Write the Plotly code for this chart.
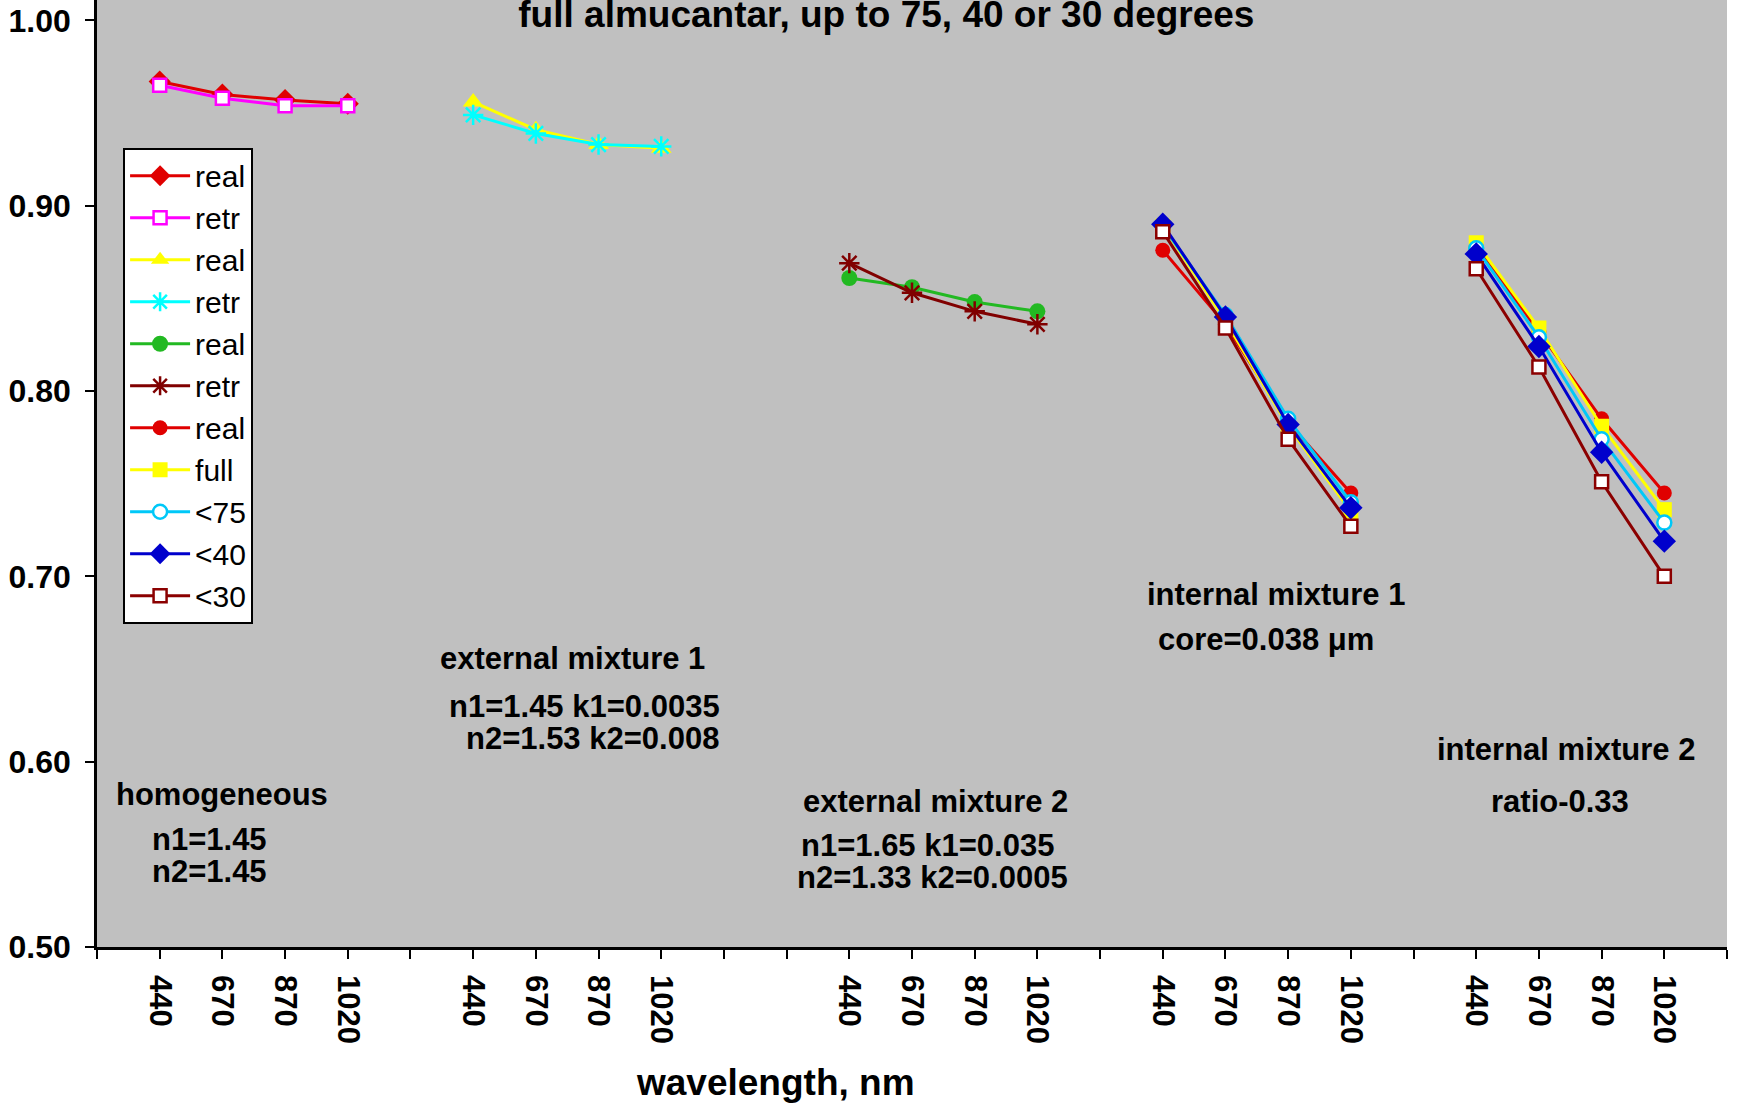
import plotly.graph_objects as go

# ---------------- data ----------------
x_labels = ["", "440", "670", "870", "1020", "",
            "440", "670", "870", "1020", "", "",
            "440", "670", "870", "1020", "",
            "440", "670", "870", "1020", "",
            "440", "670", "870", "1020", ""]

homog_real = [0.967, 0.960, 0.957, 0.955]
homog_retr = [0.965, 0.958, 0.954, 0.954]
ext1_real = [0.956, 0.941, 0.933, 0.931]
ext1_retr = [0.949, 0.939, 0.933, 0.932]
ext2_real = [0.861, 0.856, 0.848, 0.843]
ext2_retr = [0.869, 0.853, 0.843, 0.836]
int1_real = [0.876, 0.836, 0.783, 0.745]
int1_full = [0.889, 0.838, 0.781, 0.735]
int1_lt75 = [0.889, 0.841, 0.785, 0.740]
int1_lt40 = [0.890, 0.840, 0.782, 0.737]
int1_lt30 = [0.886, 0.834, 0.774, 0.727]
int2_real = [0.878, 0.832, 0.785, 0.745]
int2_full = [0.880, 0.834, 0.781, 0.736]
int2_lt75 = [0.877, 0.829, 0.774, 0.729]
int2_lt40 = [0.874, 0.824, 0.767, 0.719]
int2_lt30 = [0.866, 0.813, 0.751, 0.700]

y_ticks = [0.50, 0.60, 0.70, 0.80, 0.90, 1.00]

# category positions for each group (starts where "440" appears)
starts = [i for i, t in enumerate(x_labels) if t == "440"]
def pos(g):
    return list(range(starts[g], starts[g] + 4))

FONT = "Arial, Liberation Sans, sans-serif"
fig = go.Figure()

def add(name, xs, ys, color, symbol, size=14, fill=None, lw=2):
    mk = dict(symbol=symbol, size=size, color=fill if fill else color,
              line=dict(color=color, width=lw))
    fig.add_trace(go.Scatter(x=xs, y=ys, mode="lines+markers", name=name,
                             line=dict(color=color, width=3), marker=mk,
                             connectgaps=False))

RED = "#E00000"
add("real", pos(0), homog_real, RED, "diamond", 17, lw=0)
add("retr", pos(0), homog_retr, "#FF00FF", "square", 13, fill="white", lw=2.5)
add("real", pos(1), ext1_real, "#FFFF00", "triangle-up", 18, lw=0)
add("retr", pos(1), ext1_retr, "#00FFFF", "asterisk-open", 17, lw=2.5)
add("real", pos(2), ext2_real, "#22B922", "circle", 16, lw=0)
add("retr", pos(2), ext2_retr, "#800000", "asterisk-open", 17, lw=2.5)

def both(a, b):
    return pos(3) + [None] + pos(4), a + [None] + b

xs, ys = both(int1_real, int2_real); add("real", xs, ys, RED, "circle", 15, lw=0)
xs, ys = both(int1_full, int2_full); add("full", xs, ys, "#FFFF00", "square", 15, lw=0)
xs, ys = both(int1_lt75, int2_lt75); add("<75", xs, ys, "#00C8F8", "circle", 14, fill="white", lw=2.5)
xs, ys = both(int1_lt40, int2_lt40); add("<40", xs, ys, "#0000CC", "diamond", 18, lw=0)
xs, ys = both(int1_lt30, int2_lt30); add("<30", xs, ys, "#8B0000", "square", 13, fill="white", lw=2.5)

annots = [
    ("homogeneous", 1.99, 0.5825),
    ("n1=1.45", 1.80, 0.558),
    ("n2=1.45", 1.80, 0.5407),
    ("external mixture 1", 7.59, 0.6555),
    ("n1=1.45 k1=0.0035", 7.78, 0.6298),
    ("n2=1.53 k2=0.008", 7.90, 0.6124),
    ("external mixture 2", 13.38, 0.5784),
    ("n1=1.65 k1=0.035", 13.25, 0.555),
    ("n2=1.33 k2=0.0005", 13.32, 0.5377),
    ("internal mixture 1", 18.81, 0.6902),
    ("core=0.038 μm", 18.64, 0.6657),
    ("internal mixture 2", 23.43, 0.6065),
    ("ratio-0.33", 23.33, 0.5784),
]
for t, ax, ay in annots:
    fig.add_annotation(text=t, x=ax, y=ay, xref="x", yref="y", showarrow=False,
                       xanchor="center", yanchor="middle",
                       font=dict(family=FONT, size=31, color="black", weight="bold"))

# x-axis title placed like the original (left of the plot centre)
fig.add_annotation(text="wavelength, nm", x=0.4165, y=-0.1426, xref="paper", yref="paper",
                   showarrow=False, xanchor="center", yanchor="middle",
                   font=dict(family=FONT, size=37, color="black", weight="bold"))

fig.update_layout(
    width=1738, height=1110,
    margin=dict(l=97, r=11, t=0, b=163),
    paper_bgcolor="white", plot_bgcolor="#C0C0C0",
    font=dict(family=FONT, color="black"),
    title=dict(text="full almucantar, up to 75, 40 or 30 degrees",
               x=0.510, xanchor="center", y=0.999, yanchor="top", yref="container",
               pad=dict(t=0, b=0),
               font=dict(family=FONT, size=37, color="black", weight="bold")),
    legend=dict(x=0.016, y=0.844, xanchor="left", yanchor="top",
                bgcolor="white", bordercolor="black", borderwidth=2,
                font=dict(family=FONT, size=30, color="black"),
                itemwidth=60),
    showlegend=True,
)
fig.update_xaxes(range=[0, 26], tickmode="array", tickvals=list(range(len(x_labels))),
                 ticktext=x_labels, tickangle=90, showgrid=False, zeroline=False,
                 showline=True, linecolor="black", linewidth=2.5,
                 ticks="outside", ticklen=9, tickwidth=2, tickcolor="black",
                 ticklabelstandoff=10,
                 tickfont=dict(family=FONT, size=31, color="black", weight="bold"))
fig.update_yaxes(range=[0.5, 1.011], tickmode="array", tickvals=y_ticks,
                 tickformat=".2f", showgrid=False, zeroline=False,
                 showline=True, linecolor="black", linewidth=2.5,
                 ticks="outside", ticklen=9, tickwidth=2, tickcolor="black",
                 ticklabelstandoff=8,
                 tickfont=dict(family=FONT, size=32, color="black", weight="bold"))

fig.write_html("out.html")
